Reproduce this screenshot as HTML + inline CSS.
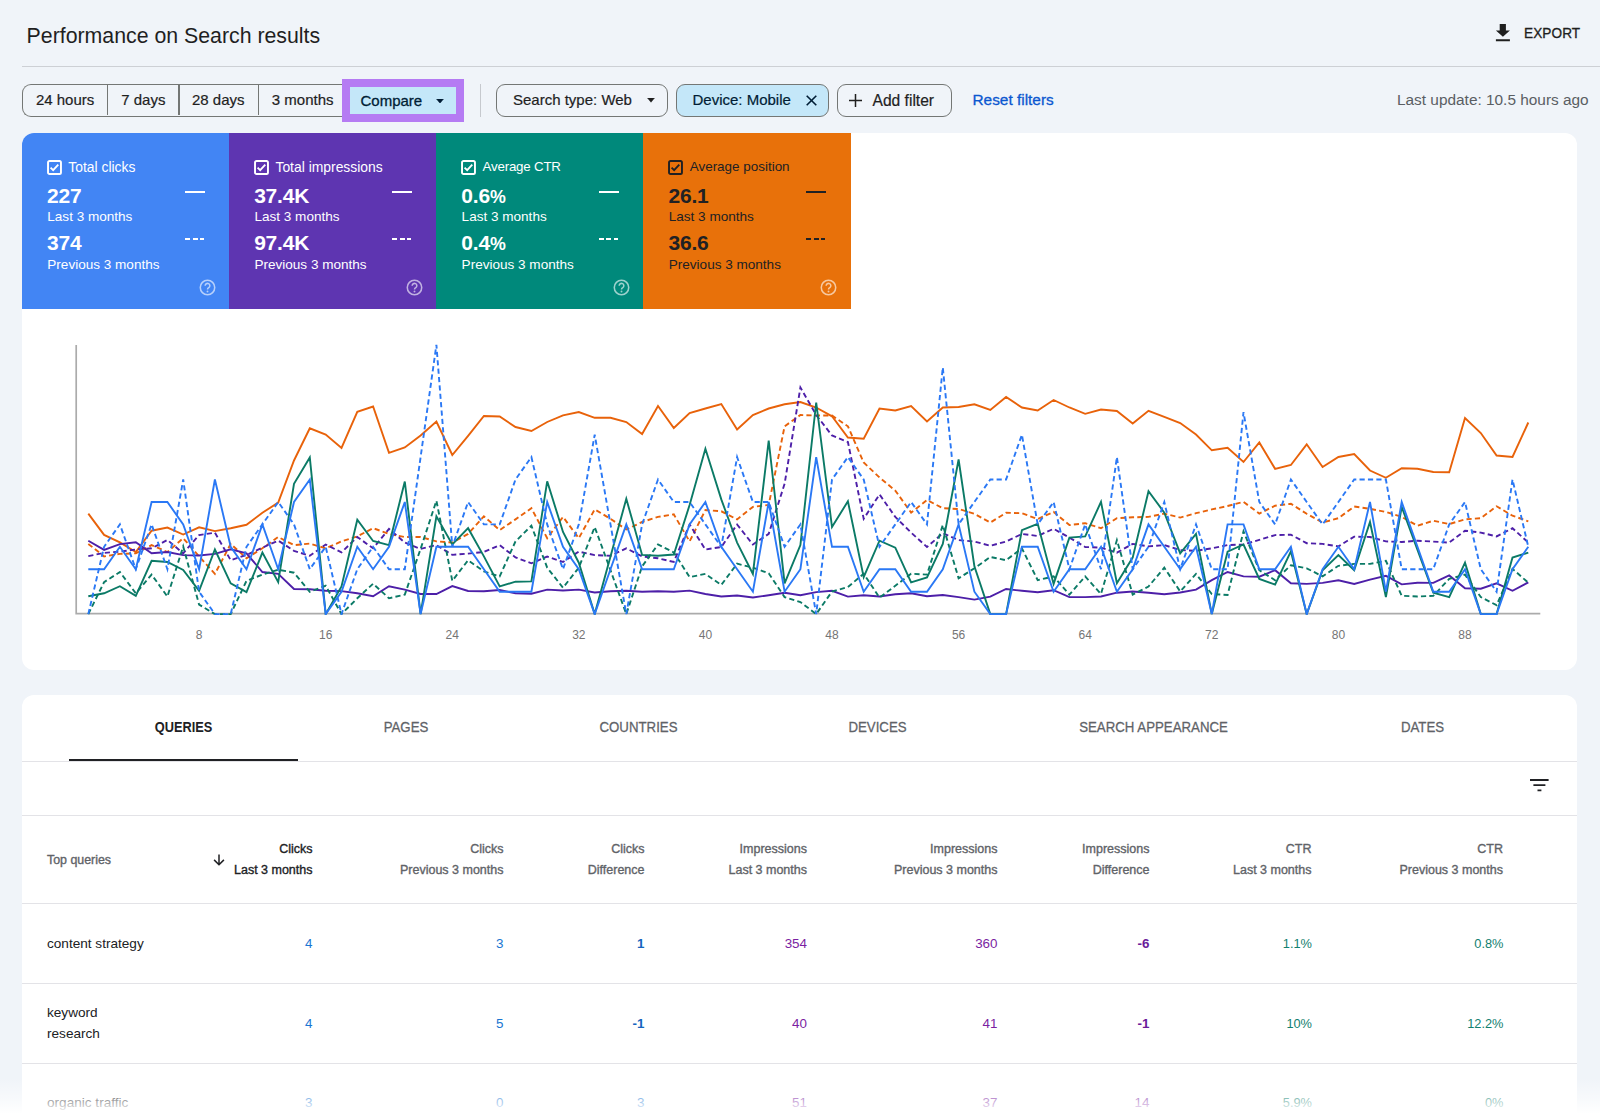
<!DOCTYPE html>
<html lang="en">
<head>
<meta charset="utf-8">
<title>Performance on Search results</title>
<style>
*{box-sizing:border-box;margin:0;padding:0}
html,body{width:1600px;height:1118px;overflow:hidden;background:#f0f4f9}
body{font-family:"Liberation Sans",sans-serif;color:#1f1f1f;position:relative}
.abs{position:absolute;white-space:nowrap}
.title{left:26.6px;top:23px;font-size:21.3px;line-height:26px;color:#1f1f1f}
.hr{left:22px;top:66px;width:1578px;height:1.3px;background:#cdd0d5}
.export{left:1524px;top:25.5px;font-size:13.6px;line-height:16px;color:#1f1f1f;letter-spacing:.1px;-webkit-text-stroke:.3px #1f1f1f;transform:scaleY(1.07);transform-origin:50% 78%}
.btn{top:84px;height:33px;border:1.3px solid #747775;font-size:15px;line-height:30px;color:#1f1f1f;text-align:center;-webkit-text-stroke:.2px}
.dates{left:22px;width:330px;border-radius:9px 0 0 9px;border-right:none}
.dates span{position:absolute;top:0;height:30.4px}
.dates i{position:absolute;top:0;width:1.3px;height:30.4px;background:#747775}
.cmpbox{left:342px;top:79.2px;width:122.4px;height:42.4px;background:#b57bf3}
.cmpin{left:350px;top:87px;width:106px;height:27px;background:#c4e7f9;font-size:15px;line-height:27px;color:#001d35;-webkit-text-stroke:.3px #001d35}
.vsep{left:480.3px;top:84px;width:1.1px;height:33px;background:#c6c9ce}
.chip{border-radius:9px}
.reset{left:972.5px;top:91px;font-size:15.4px;line-height:18px;color:#0b57d0;-webkit-text-stroke:.3px #0b57d0}
.upd{left:1397px;top:91px;font-size:15.4px;line-height:18px;color:#5a5e63}
.card{left:22px;width:1555.3px;background:#fff;border-radius:12px;overflow:hidden}
.tile{position:absolute;top:0;width:207.15px;height:176.2px;color:#fff}
.tile .lbl{position:absolute;left:46.3px;top:25.5px;font-size:13.9px;line-height:16px}
.tile .cb{position:absolute;left:24.6px;top:26.4px}
.tile .v{position:absolute;left:25px;font-size:21px;font-weight:700;line-height:24px;letter-spacing:-.2px}
.tile .s{position:absolute;left:25.3px;font-size:13.55px;line-height:16px}
.tile .d1{position:absolute;left:163px;top:58.2px;width:20px;height:2px;background:currentColor}
.tile .d2{position:absolute;left:163px;top:105px;width:19px;height:2px;background:repeating-linear-gradient(90deg,currentColor 0 5px,transparent 5px 7.5px)}
.tile .help{position:absolute;left:176.7px;top:146.2px}
.xl{top:628.2px;font-size:12px;line-height:14px;color:#757575;width:40px;text-align:center}
.tab{top:720px;font-size:13.25px;line-height:16px;color:#5f6368;-webkit-text-stroke:.25px #5f6368;transform:scaleY(1.08);text-align:center;width:240px}
.th{font-size:12.5px;line-height:21px;color:#5f6368;text-align:right;-webkit-text-stroke:.35px;width:200px}
.td{font-size:13.4px;line-height:21px;text-align:right;width:120px}
.q{left:47px;font-size:13.6px;line-height:21px;color:#202124}
.line{left:22px;width:1555px;height:1px;background:#e3e3e7}
</style>
</head>
<body>
<div class="abs title">Performance on Search results</div>
<svg class="abs" style="left:1494px;top:22px" width="18" height="22" viewBox="0 0 18 22"><path d="M5.700 1.900h6.200v6.600h4L8.900 14.700 1.900 8.500h3.800zM1.900 17.300h14v1.900H1.900z" fill="#1f1f1f"/></svg>
<div class="abs export">EXPORT</div>
<div class="abs hr"></div>

<!-- filter bar -->
<div class="abs btn dates">
  <span style="left:0;width:84.2px">24 hours</span><i style="left:84.150px"></i>
  <span style="left:85.400px;width:69.9px">7 days</span><i style="left:155.250px"></i>
  <span style="left:156.500px;width:77.5px">28 days</span><i style="left:234.550px"></i>
  <span style="left:235.800px;width:87.8px">3 months</span>
</div>
<div class="abs cmpbox"></div>
<div class="abs cmpin"><span style="position:absolute;left:10.5px">Compare</span>
  <svg style="position:absolute;left:85.5px;top:11.5px" width="8" height="4.500" viewBox="0 0 9 5"><path d="M.6 0h7.800L4.500 4.700z" fill="#001d35" stroke="#001d35" stroke-width=".6" stroke-linejoin="round"/></svg></div>
<div class="abs vsep"></div>
<div class="abs btn chip" style="left:496px;width:171.5px"><span style="position:absolute;left:16px">Search type: Web</span>
  <svg style="position:absolute;left:149.5px;top:13px" width="8" height="4.500" viewBox="0 0 9 5"><path d="M.6 0h7.800L4.500 4.700z" fill="#1f1f1f" stroke="#1f1f1f" stroke-width=".6" stroke-linejoin="round"/></svg></div>
<div class="abs btn chip" style="left:675.5px;width:153px;background:#c4e7f9;color:#001d35"><span style="position:absolute;left:16px">Device: Mobile</span>
  <svg style="position:absolute;left:129px;top:9.5px" width="11" height="11" viewBox="0 0 11 11"><path d="M.7.7l9.6 9.6M10.3.7L.7 10.300" stroke="#001d35" stroke-width="1.6" fill="none"/></svg></div>
<div class="abs btn chip" style="left:836.5px;width:115px"><span style="position:absolute;left:35px;top:.5px;font-size:15.6px">Add filter</span>
  <svg style="position:absolute;left:11px;top:8.5px" width="13" height="13" viewBox="0 0 13 13"><path d="M6.500 0v13M0 6.500h13" stroke="#1f1f1f" stroke-width="1.5" fill="none"/></svg></div>
<div class="abs reset">Reset filters</div>
<div class="abs upd">Last update: 10.5 hours ago</div>

<!-- chart card -->
<div class="abs card" id="card1" style="top:133.2px;height:536.9px">
  <div class="tile" style="left:0;background:#4285f4">
    <svg class="cb" width="15.4" height="15.4" viewBox="0 0 15 15"><rect x="1" y="1" width="12.600" height="12.600" rx="1.500" fill="none" stroke="currentColor" stroke-width="1.900"/><path d="M3.500 7.400l2.500 2.500 5-5.400" fill="none" stroke="currentColor" stroke-width="1.800"/></svg>
    <div class="lbl">Total clicks</div>
    <div class="v" style="top:50.5px">227</div><div class="s" style="top:75.7px">Last 3 months</div>
    <div class="v" style="top:98.3px">374</div><div class="s" style="top:123.6px">Previous 3 months</div>
    <div class="d1"></div><div class="d2"></div>
    <svg class="help" width="17" height="17" viewBox="0 0 16 16"><circle cx="8" cy="8" r="6.8" fill="none" stroke="#fff" stroke-opacity=".62" stroke-width="1.45"/><path d="M5.800 6.400a2.200 2.200 0 1 1 3.400 1.800c-.8.500-1.200.9-1.200 1.700" fill="none" stroke="#fff" stroke-opacity=".62" stroke-width="1.45"/><circle cx="8" cy="11.700" r=".9" fill="#fff" fill-opacity=".6"/></svg>
  </div>
  <div class="tile" style="left:207.15px;background:#5e35b1">
    <svg class="cb" width="15.4" height="15.4" viewBox="0 0 15 15"><rect x="1" y="1" width="12.600" height="12.600" rx="1.500" fill="none" stroke="currentColor" stroke-width="1.900"/><path d="M3.500 7.400l2.500 2.500 5-5.400" fill="none" stroke="currentColor" stroke-width="1.800"/></svg>
    <div class="lbl">Total impressions</div>
    <div class="v" style="top:50.5px">37.4K</div><div class="s" style="top:75.7px">Last 3 months</div>
    <div class="v" style="top:98.3px">97.4K</div><div class="s" style="top:123.6px">Previous 3 months</div>
    <div class="d1"></div><div class="d2"></div>
    <svg class="help" width="17" height="17" viewBox="0 0 16 16"><circle cx="8" cy="8" r="6.8" fill="none" stroke="#fff" stroke-opacity=".62" stroke-width="1.45"/><path d="M5.800 6.400a2.200 2.200 0 1 1 3.400 1.800c-.8.500-1.200.9-1.200 1.700" fill="none" stroke="#fff" stroke-opacity=".62" stroke-width="1.45"/><circle cx="8" cy="11.700" r=".9" fill="#fff" fill-opacity=".6"/></svg>
  </div>
  <div class="tile" style="left:414.3px;background:#00897b">
    <svg class="cb" width="15.4" height="15.4" viewBox="0 0 15 15"><rect x="1" y="1" width="12.600" height="12.600" rx="1.500" fill="none" stroke="currentColor" stroke-width="1.900"/><path d="M3.500 7.400l2.500 2.500 5-5.400" fill="none" stroke="currentColor" stroke-width="1.800"/></svg>
    <div class="lbl" style="font-size:13.3px;letter-spacing:-.2px">Average CTR</div>
    <div class="v" style="top:50.5px">0.6<span style="font-size:.85em">%</span></div><div class="s" style="top:75.7px">Last 3 months</div>
    <div class="v" style="top:98.3px">0.4<span style="font-size:.85em">%</span></div><div class="s" style="top:123.6px">Previous 3 months</div>
    <div class="d1"></div><div class="d2"></div>
    <svg class="help" width="17" height="17" viewBox="0 0 16 16"><circle cx="8" cy="8" r="6.8" fill="none" stroke="#fff" stroke-opacity=".62" stroke-width="1.45"/><path d="M5.800 6.400a2.200 2.200 0 1 1 3.400 1.800c-.8.500-1.200.9-1.200 1.700" fill="none" stroke="#fff" stroke-opacity=".62" stroke-width="1.45"/><circle cx="8" cy="11.700" r=".9" fill="#fff" fill-opacity=".6"/></svg>
  </div>
  <div class="tile" style="left:621.45px;background:#e8710a;color:#202124">
    <svg class="cb" width="15.4" height="15.4" viewBox="0 0 15 15"><rect x="1" y="1" width="12.600" height="12.600" rx="1.500" fill="none" stroke="currentColor" stroke-width="1.900"/><path d="M3.500 7.400l2.500 2.500 5-5.400" fill="none" stroke="currentColor" stroke-width="1.800"/></svg>
    <div class="lbl" style="font-size:13.45px">Average position</div>
    <div class="v" style="top:50.5px">26.1</div><div class="s" style="top:75.7px">Last 3 months</div>
    <div class="v" style="top:98.3px">36.6</div><div class="s" style="top:123.6px">Previous 3 months</div>
    <div class="d1"></div><div class="d2"></div>
    <svg class="help" width="17" height="17" viewBox="0 0 16 16"><circle cx="8" cy="8" r="6.8" fill="none" stroke="#fff" stroke-opacity=".62" stroke-width="1.45"/><path d="M5.800 6.400a2.200 2.200 0 1 1 3.400 1.800c-.8.500-1.200.9-1.200 1.700" fill="none" stroke="#fff" stroke-opacity=".62" stroke-width="1.45"/><circle cx="8" cy="11.700" r=".9" fill="#fff" fill-opacity=".6"/></svg>
  </div>
</div>

<!-- CHART -->
<svg class="abs" id="chart" style="left:0;top:330px" width="1600" height="300" viewBox="0 330 1600 300">
  <path d="M76.200 345V613.700H1540.300" fill="none" stroke="#ababab" stroke-width="1.700"/>
  <!--SERIES-->
  <clipPath id="cp"><rect x="70" y="330" width="1480" height="285.100"/></clipPath><g clip-path="url(#cp)">
  <polyline id="org_d" points="88.3,543.9 104.1,556.4 119.9,553.9 135.8,553.3 151.6,545.1 167.4,552.0 183.2,538.2 199.1,556.4 214.9,573.9 230.7,543.9 246.5,558.3 262.4,548.3 278.2,537.0 294.0,545.1 309.8,543.6 325.7,548.3 341.5,541.4 357.3,536.4 373.1,528.2 389.0,533.9 404.8,537.0 420.6,537.0 436.4,541.4 452.3,542.6 468.1,533.9 483.9,516.3 499.7,530.1 515.5,519.4 531.4,508.2 547.2,538.2 563.0,516.9 578.8,538.2 594.7,509.4 610.5,518.8 626.3,529.5 642.1,522.0 658.0,516.9 673.8,514.4 689.6,541.4 705.4,510.1 721.3,511.3 737.1,519.4 752.9,506.9 768.7,505.0 784.6,426.3 800.4,415.0 816.2,415.5 832.0,415.5 847.9,426.3 863.7,462.5 879.5,477.5 895.3,490.6 911.1,512.6 927.0,500.0 942.8,508.2 958.6,509.0 974.4,513.8 990.3,522.6 1006.1,512.8 1021.9,513.2 1037.7,519.0 1053.6,511.9 1069.4,525.1 1085.2,523.2 1101.0,528.2 1116.9,518.2 1132.7,517.3 1148.5,516.9 1164.3,513.6 1180.2,517.6 1196.0,513.2 1211.8,509.4 1227.6,506.0 1243.5,501.9 1259.3,513.6 1275.1,505.7 1290.9,503.8 1306.7,513.8 1322.6,522.6 1338.4,518.2 1354.2,506.5 1370.0,508.8 1385.9,511.9 1401.7,516.9 1417.5,525.7 1433.3,520.7 1449.2,524.1 1465.0,519.4 1480.8,518.2 1496.6,506.3 1512.5,515.7 1528.3,521.3" fill="none" stroke="#e8620a" stroke-width="1.9" stroke-linejoin="miter" stroke-dasharray="5.2 3.2"/>
  <polyline id="org_s" points="88.3,513.6 104.1,534.9 119.9,542.4 135.8,552.0 151.6,530.7 167.4,527.6 183.2,534.5 199.1,527.3 214.9,531.1 230.7,528.2 246.5,524.8 262.4,512.8 278.2,502.5 294.0,460.5 309.8,428.3 325.7,434.5 341.5,448.0 357.3,411.8 373.1,406.5 389.0,452.8 404.8,447.5 420.6,435.5 436.4,421.5 452.3,455.0 468.1,435.8 483.9,416.0 499.7,416.5 515.5,427.0 531.4,431.0 547.2,422.0 563.0,415.3 578.8,412.0 594.7,417.8 610.5,417.8 626.3,422.0 642.1,434.0 658.0,406.0 673.8,428.0 689.6,413.0 705.4,408.5 721.3,404.0 737.1,429.5 752.9,415.0 768.7,408.5 784.6,404.3 800.4,402.0 816.2,407.5 832.0,416.3 847.9,437.5 863.7,438.8 879.5,408.5 895.3,410.5 911.1,406.0 927.0,421.5 942.8,407.5 958.6,407.0 974.4,404.3 990.3,410.0 1006.1,397.0 1021.9,407.5 1037.7,410.5 1053.6,400.0 1069.4,407.5 1085.2,413.8 1101.0,409.5 1116.9,411.0 1132.7,423.5 1148.5,410.8 1164.3,416.8 1180.2,423.0 1196.0,434.5 1211.8,450.3 1227.6,447.8 1243.5,462.0 1259.3,442.5 1275.1,468.8 1290.9,465.0 1306.7,444.3 1322.6,467.0 1338.4,457.0 1354.2,454.0 1370.0,470.5 1385.9,477.8 1401.7,468.3 1417.5,468.8 1433.3,472.0 1449.2,472.3 1465.0,418.0 1480.8,433.0 1496.6,455.5 1512.5,457.0 1528.3,422.5" fill="none" stroke="#e8620a" stroke-width="1.9" stroke-linejoin="miter"/>
  <polyline id="pur_d" points="88.3,556.1 104.1,552.9 119.9,551.6 135.8,549.5 151.6,548.3 167.4,539.9 183.2,553.3 199.1,535.1 214.9,532.6 230.7,560.2 246.5,554.9 262.4,547.6 278.2,540.6 294.0,550.8 309.8,555.8 325.7,544.5 341.5,552.4 357.3,537.0 373.1,548.3 389.0,528.8 404.8,542.6 420.6,548.9 436.4,545.1 452.3,554.9 468.1,553.6 483.9,552.0 499.7,545.1 515.5,557.4 531.4,563.3 547.2,556.6 563.0,562.0 578.8,551.6 594.7,555.1 610.5,555.8 626.3,548.3 642.1,556.4 658.0,558.3 673.8,562.0 689.6,524.5 705.4,549.5 721.3,547.0 737.1,524.5 752.9,544.5 768.7,533.9 784.6,483.8 800.4,387.5 816.2,415.0 832.0,435.5 847.9,442.0 863.7,518.8 879.5,494.4 895.3,516.9 911.1,532.6 927.0,547.0 942.8,533.2 958.6,540.1 974.4,541.6 990.3,545.7 1006.1,541.6 1021.9,533.9 1037.7,536.0 1053.6,528.8 1069.4,537.6 1085.2,547.0 1101.0,547.6 1116.9,552.6 1132.7,543.9 1148.5,546.4 1164.3,545.1 1180.2,550.1 1196.0,550.8 1211.8,548.3 1227.6,545.1 1243.5,544.5 1259.3,539.9 1275.1,535.1 1290.9,534.7 1306.7,543.2 1322.6,543.9 1338.4,546.4 1354.2,536.6 1370.0,537.0 1385.9,541.4 1401.7,542.0 1417.5,540.7 1433.3,541.6 1449.2,542.6 1465.0,530.7 1480.8,532.6 1496.6,536.4 1512.5,528.2 1528.3,542.6" fill="none" stroke="#4d1fa8" stroke-width="1.9" stroke-linejoin="miter" stroke-dasharray="5.2 3.2"/>
  <polyline id="pur_s" points="88.3,540.7 104.1,549.9 119.9,544.1 135.8,542.2 151.6,553.3 167.4,552.0 183.2,555.1 199.1,555.5 214.9,553.9 230.7,549.3 246.5,553.3 262.4,572.0 278.2,573.8 294.0,589.0 309.8,589.2 325.7,590.8 341.5,591.1 357.3,593.3 373.1,596.2 389.0,586.2 404.8,589.6 420.6,594.0 436.4,594.0 452.3,586.1 468.1,591.0 483.9,591.2 499.7,590.0 515.5,593.3 531.4,593.7 547.2,589.6 563.0,590.5 578.8,589.6 594.7,592.5 610.5,591.2 626.3,590.8 642.1,591.7 658.0,591.2 673.8,591.7 689.6,590.6 705.4,594.0 721.3,596.5 737.1,595.5 752.9,597.5 768.7,595.2 784.6,592.7 800.4,595.2 816.2,592.1 832.0,590.8 847.9,596.6 863.7,595.2 879.5,596.5 895.3,594.2 911.1,593.3 927.0,596.2 942.8,595.0 958.6,597.1 974.4,599.6 990.3,596.7 1006.1,589.0 1021.9,590.8 1037.7,592.3 1053.6,590.2 1069.4,597.1 1085.2,597.1 1101.0,596.5 1116.9,592.7 1132.7,591.5 1148.5,592.7 1164.3,594.2 1180.2,592.5 1196.0,589.6 1211.8,580.2 1227.6,572.0 1243.5,576.4 1259.3,576.7 1275.1,570.2 1290.9,583.3 1306.7,583.9 1322.6,582.9 1338.4,580.2 1354.2,583.9 1370.0,579.6 1385.9,575.8 1401.7,584.4 1417.5,582.8 1433.3,582.9 1449.2,575.4 1465.0,588.3 1480.8,588.7 1496.6,583.3 1512.5,590.8 1528.3,582.4" fill="none" stroke="#4d1fa8" stroke-width="1.9" stroke-linejoin="miter"/>
  <polyline id="grn_d" points="88.3,614.1 104.1,582.1 119.9,572.0 135.8,593.3 151.6,574.6 167.4,596.5 183.2,546.4 199.1,604.6 214.9,614.1 230.7,614.1 246.5,580.8 262.4,574.6 278.2,569.7 294.0,572.7 309.8,591.8 325.7,585.8 341.5,614.1 357.3,598.3 373.1,583.7 389.0,598.3 404.8,594.6 420.6,548.9 436.4,500.7 452.3,580.8 468.1,560.2 483.9,571.4 499.7,576.4 515.5,541.4 531.4,525.7 547.2,567.7 563.0,587.7 578.8,567.7 594.7,527.0 610.5,570.2 626.3,614.1 642.1,566.4 658.0,544.5 673.8,552.4 689.6,577.1 705.4,573.9 721.3,584.9 737.1,563.7 752.9,567.7 768.7,573.3 784.6,597.1 800.4,602.1 816.2,614.1 832.0,591.5 847.9,587.1 863.7,573.7 879.5,597.7 895.3,585.8 911.1,573.7 927.0,574.6 942.8,525.1 958.6,578.3 974.4,568.3 990.3,557.0 1006.1,560.2 1021.9,548.3 1037.7,580.2 1053.6,576.4 1069.4,594.6 1085.2,576.4 1101.0,594.0 1116.9,540.1 1132.7,594.6 1148.5,586.5 1164.3,567.7 1180.2,591.5 1196.0,573.9 1211.8,594.0 1227.6,595.0 1243.5,531.3 1259.3,570.2 1275.1,580.2 1290.9,565.2 1306.7,568.3 1322.6,576.4 1338.4,565.8 1354.2,563.9 1370.0,563.9 1385.9,560.8 1401.7,595.8 1417.5,596.5 1433.3,595.8 1449.2,578.9 1465.0,574.6 1480.8,597.1 1496.6,605.2 1512.5,568.9 1528.3,582.7" fill="none" stroke="#0b7a66" stroke-width="1.9" stroke-linejoin="miter" stroke-dasharray="5.2 3.2"/>
  <polyline id="grn_s" points="88.3,596.2 104.1,593.3 119.9,586.2 135.8,595.8 151.6,560.8 167.4,562.0 183.2,569.9 199.1,590.8 214.9,549.5 230.7,583.3 246.5,592.1 262.4,552.6 278.2,582.1 294.0,483.8 309.8,457.5 325.7,614.1 341.5,586.4 357.3,519.8 373.1,541.0 389.0,545.1 404.8,481.5 420.6,614.1 436.4,516.3 452.3,544.5 468.1,528.2 483.9,556.4 499.7,586.4 515.5,581.7 531.4,581.4 547.2,481.3 563.0,532.0 578.8,562.7 594.7,614.1 610.5,556.4 626.3,498.8 642.1,554.9 658.0,555.8 673.8,554.5 689.6,505.0 705.4,448.8 721.3,499.4 737.1,542.6 752.9,573.9 768.7,440.5 784.6,583.3 800.4,545.1 816.2,402.5 832.0,527.0 847.9,501.3 863.7,577.1 879.5,540.7 895.3,547.6 911.1,582.4 927.0,577.4 942.8,543.9 958.6,459.5 974.4,566.4 990.3,614.1 1006.1,614.1 1021.9,530.1 1037.7,523.8 1053.6,583.9 1069.4,537.6 1085.2,536.4 1101.0,501.9 1116.9,583.3 1132.7,557.6 1148.5,491.3 1164.3,512.6 1180.2,553.3 1196.0,533.9 1211.8,614.1 1227.6,551.7 1243.5,544.5 1259.3,578.9 1275.1,584.6 1290.9,551.4 1306.7,614.1 1322.6,570.2 1338.4,555.1 1354.2,570.2 1370.0,522.0 1385.9,597.1 1401.7,506.9 1417.5,549.9 1433.3,592.7 1449.2,597.1 1465.0,562.7 1480.8,614.1 1496.6,614.1 1512.5,557.6 1528.3,552.6" fill="none" stroke="#0b7a66" stroke-width="1.9" stroke-linejoin="miter"/>
  <polyline id="blue_d" points="88.3,614.1 104.1,546.8 119.9,524.4 135.8,569.2 151.6,524.4 167.4,569.2 183.2,479.5 199.1,591.7 214.9,614.1 230.7,614.1 246.5,546.8 262.4,524.4 278.2,502.0 294.0,524.4 309.8,569.2 325.7,546.8 341.5,614.1 357.3,569.2 373.1,546.8 389.0,569.2 404.8,569.2 420.6,457.1 436.4,344.9 452.3,546.8 468.1,502.0 483.9,524.4 499.7,524.4 515.5,479.5 531.4,457.1 547.2,524.4 563.0,569.2 578.8,524.4 594.7,434.7 610.5,524.4 626.3,614.1 642.1,524.4 658.0,479.5 673.8,502.0 689.6,502.0 705.4,524.4 721.3,546.8 737.1,457.1 752.9,502.0 768.7,502.0 784.6,546.8 800.4,524.4 816.2,614.1 832.0,479.5 847.9,457.1 863.7,479.5 879.5,546.8 895.3,524.4 911.1,502.0 927.0,524.4 942.8,367.4 958.6,524.4 974.4,502.0 990.3,479.5 1006.1,479.5 1021.9,434.7 1037.7,524.4 1053.6,502.0 1069.4,569.2 1085.2,524.4 1101.0,569.2 1116.9,457.1 1132.7,569.2 1148.5,546.8 1164.3,502.0 1180.2,569.2 1196.0,524.4 1211.8,569.2 1227.6,569.2 1243.5,412.2 1259.3,502.0 1275.1,524.4 1290.9,479.5 1306.7,502.0 1322.6,524.4 1338.4,502.0 1354.2,479.5 1370.0,479.5 1385.9,479.5 1401.7,569.2 1417.5,569.2 1433.3,569.2 1449.2,524.4 1465.0,502.0 1480.8,569.2 1496.6,591.7 1512.5,479.5 1528.3,546.8" fill="none" stroke="#2a78f5" stroke-width="1.9" stroke-linejoin="miter" stroke-dasharray="5.2 3.2"/>
  <polyline id="blue_s" points="88.3,569.2 104.1,569.2 119.9,546.8 135.8,569.2 151.6,502.0 167.4,502.0 183.2,524.4 199.1,569.2 214.9,479.5 230.7,546.8 246.5,569.2 262.4,524.4 278.2,569.2 294.0,502.0 309.8,479.5 325.7,614.1 341.5,591.7 357.3,546.8 373.1,569.2 389.0,546.8 404.8,502.0 420.6,614.1 436.4,546.8 452.3,546.8 468.1,546.8 483.9,569.2 499.7,591.7 515.5,591.7 531.4,591.7 547.2,502.0 563.0,546.8 578.8,569.2 594.7,614.1 610.5,569.2 626.3,524.4 642.1,569.2 658.0,569.2 673.8,569.2 689.6,524.4 705.4,502.0 721.3,546.8 737.1,569.2 752.9,591.7 768.7,502.0 784.6,591.7 800.4,569.2 816.2,457.1 832.0,546.8 847.9,546.8 863.7,591.7 879.5,569.2 895.3,569.2 911.1,591.7 927.0,591.7 942.8,569.2 958.6,524.4 974.4,591.7 990.3,614.1 1006.1,614.1 1021.9,546.8 1037.7,546.8 1053.6,591.7 1069.4,569.2 1085.2,569.2 1101.0,546.8 1116.9,591.7 1132.7,569.2 1148.5,524.4 1164.3,546.8 1180.2,569.2 1196.0,546.8 1211.8,614.1 1227.6,524.4 1243.5,524.4 1259.3,569.2 1275.1,569.2 1290.9,546.8 1306.7,614.1 1322.6,569.2 1338.4,546.8 1354.2,569.2 1370.0,502.0 1385.9,591.7 1401.7,502.0 1417.5,546.8 1433.3,591.7 1449.2,591.7 1465.0,569.2 1480.8,614.1 1496.6,614.1 1512.5,569.2 1528.3,546.8" fill="none" stroke="#2a78f5" stroke-width="1.9" stroke-linejoin="miter"/>
  </g><!--/SERIES-->
</svg>
<div class="abs xl" style="left:179.07px">8</div>
<div class="abs xl" style="left:305.66px">16</div>
<div class="abs xl" style="left:432.25px">24</div>
<div class="abs xl" style="left:558.84px">32</div>
<div class="abs xl" style="left:685.44px">40</div>
<div class="abs xl" style="left:812.03px">48</div>
<div class="abs xl" style="left:938.62px">56</div>
<div class="abs xl" style="left:1065.21px">64</div>
<div class="abs xl" style="left:1191.80px">72</div>
<div class="abs xl" style="left:1318.40px">80</div>
<div class="abs xl" style="left:1444.99px">88</div>

<!-- table card -->
<div class="abs card" style="top:695px;height:440px"></div>
<div class="abs tab" style="left:63.500px;color:#202124;font-weight:700;font-size:12.8px;-webkit-text-stroke:0">QUERIES</div>
<div class="abs tab" style="left:286px">PAGES</div>
<div class="abs tab" style="left:518.500px">COUNTRIES</div>
<div class="abs tab" style="left:757.500px">DEVICES</div>
<div class="abs tab" style="left:1033.500px">SEARCH APPEARANCE</div>
<div class="abs tab" style="left:1302.500px">DATES</div>
<div class="abs" style="left:69px;top:758.500px;width:229px;height:2.500px;background:#202124"></div>
<div class="abs line" style="top:761px"></div>
<svg class="abs" style="left:1529.500px;top:778px" width="19" height="14" viewBox="0 0 19 14"><path d="M0 2h18.600M3.400 7.100h12M7.500 12.400h3.900" stroke="#202124" stroke-width="1.900" fill="none"/></svg>
<div class="abs line" style="top:815px"></div>

<div class="abs" style="left:47px;top:850.400px;font-size:12.4px;line-height:20px;color:#5f6368;-webkit-text-stroke:.35px">Top queries</div>
<svg class="abs" style="left:212.600px;top:853px" width="12" height="13" viewBox="0 0 12 13"><path d="M6 1.600v10M1.100 6.900l4.900 4.900 4.900-4.900" stroke="#202124" stroke-width="1.500" fill="none"/></svg>
<div class="abs th" style="left:112.500px;top:839.200px;color:#202124">Clicks<br>Last 3 months</div>
<div class="abs th" style="left:303.500px;top:839.200px">Clicks<br>Previous 3 months</div>
<div class="abs th" style="left:444.500px;top:839.200px">Clicks<br>Difference</div>
<div class="abs th" style="left:607px;top:839.200px">Impressions<br>Last 3 months</div>
<div class="abs th" style="left:797.500px;top:839.200px">Impressions<br>Previous 3 months</div>
<div class="abs th" style="left:949.500px;top:839.200px">Impressions<br>Difference</div>
<div class="abs th" style="left:1111.500px;top:839.200px">CTR<br>Last 3 months</div>
<div class="abs th" style="left:1303px;top:839.200px">CTR<br>Previous 3 months</div>
<div class="abs line" style="top:903px"></div>

<div class="abs q" style="top:933px">content strategy</div>
<div class="abs td" style="left:192.500px;top:933px;color:#1976d2">4</div>
<div class="abs td" style="left:383.500px;top:933px;color:#1976d2">3</div>
<div class="abs td" style="left:524.500px;top:933px;color:#1565c0;font-weight:700">1</div>
<div class="abs td" style="left:687px;top:933px;color:#7b1fa2">354</div>
<div class="abs td" style="left:877.500px;top:933px;color:#7b1fa2">360</div>
<div class="abs td" style="left:1029.500px;top:933px;color:#6a1b9a;font-weight:700">-6</div>
<div class="abs td" style="left:1192px;top:933px;color:#12806f;font-size:12.8px">1.1%</div>
<div class="abs td" style="left:1383.5px;top:933px;color:#12806f;font-size:12.8px">0.8%</div>
<div class="abs line" style="top:983px"></div>

<div class="abs q" style="top:1002px">keyword<br>research</div>
<div class="abs td" style="left:192.500px;top:1012.500px;color:#1976d2">4</div>
<div class="abs td" style="left:383.500px;top:1012.500px;color:#1976d2">5</div>
<div class="abs td" style="left:524.500px;top:1012.500px;color:#1565c0;font-weight:700">-1</div>
<div class="abs td" style="left:687px;top:1012.500px;color:#7b1fa2">40</div>
<div class="abs td" style="left:877.500px;top:1012.500px;color:#7b1fa2">41</div>
<div class="abs td" style="left:1029.500px;top:1012.500px;color:#6a1b9a;font-weight:700">-1</div>
<div class="abs td" style="left:1192px;top:1012.500px;color:#12806f;font-size:12.8px">10%</div>
<div class="abs td" style="left:1383.5px;top:1012.500px;color:#12806f;font-size:12.8px">12.2%</div>
<div class="abs line" style="top:1063px"></div>

<div class="abs q" style="top:1092px">organic traffic</div>
<div class="abs td" style="left:192.500px;top:1092px;color:#1976d2">3</div>
<div class="abs td" style="left:383.500px;top:1092px;color:#1976d2">0</div>
<div class="abs td" style="left:524.500px;top:1092px;color:#1976d2">3</div>
<div class="abs td" style="left:687px;top:1092px;color:#7b1fa2">51</div>
<div class="abs td" style="left:877.500px;top:1092px;color:#7b1fa2">37</div>
<div class="abs td" style="left:1029.500px;top:1092px;color:#7b1fa2">14</div>
<div class="abs td" style="left:1192px;top:1092px;color:#12806f;font-size:12.8px">5.9%</div>
<div class="abs td" style="left:1383.5px;top:1092px;color:#12806f;font-size:12.8px">0%</div>

<div class="abs" style="left:0;top:1078px;width:1600px;height:40px;background:linear-gradient(to bottom,rgba(255,255,255,0) 0%,rgba(255,255,255,.5) 50%,rgba(255,255,255,.82) 75%,#fff 90%,#fff 100%)"></div>
</body>
</html>
